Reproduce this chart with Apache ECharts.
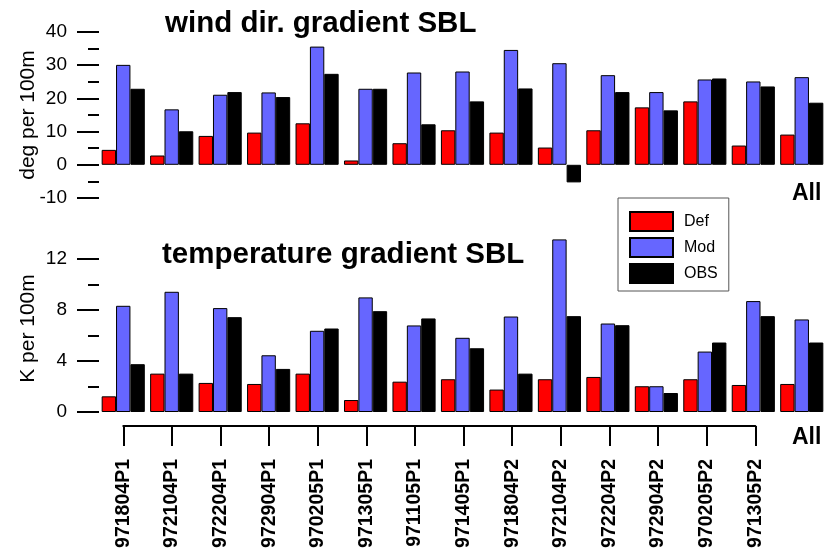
<!DOCTYPE html>
<html>
<head>
<meta charset="utf-8">
<script src="https://cdn.jsdelivr.net/npm/echarts@6/dist/echarts.min.js"></script>
<style>
  html, body { margin: 0; padding: 0; background: #fff; }
  #chart { width: 826px; height: 551px; }
</style>
</head>
<body>
<div id="chart"></div>
<script>
// Flight cases (last entry is the aggregate over all cases)
var categories = ['971804P1', '972104P1', '972204P1', '972904P1', '970205P1', '971305P1', '971105P1',
                  '971405P1', '971804P2', '972104P2', '972204P2', '972904P2', '970205P2', '971305P2', 'All'];
var seriesNames = ['Def', 'Mod', 'OBS'];

// Wind direction gradient in the SBL (deg per 100m)
var windDef = [4.5, 2.8, 8.7, 9.7, 12.5, 1.3, 6.5, 10.4, 9.7, 5.2, 10.4, 17.3, 19.1, 5.8, 9.1];
var windMod = [30.1, 16.7, 21.1, 21.8, 35.6, 22.9, 27.8, 28.1, 34.6, 30.6, 27.0, 21.9, 25.7, 25.1, 26.4];
var windObs = [22.9, 10.1, 21.9, 20.4, 27.4, 22.9, 12.2, 19.1, 23.0, -5.3, 21.9, 16.4, 26.0, 23.6, 18.7];

// Temperature gradient in the SBL (K per 100m)
var tempDef = [1.23, 3.01, 2.28, 2.2, 3.01, 0.94, 2.38, 2.57, 1.76, 2.57, 2.75, 2.02, 2.57, 2.12, 2.2];
var tempMod = [8.33, 9.43, 8.15, 4.45, 6.37, 8.99, 6.79, 5.82, 7.49, 13.54, 6.94, 2.02, 4.74, 8.70, 7.26];
var tempObs = [3.75, 3.01, 7.44, 3.38, 6.55, 7.91, 7.34, 5.0, 3.01, 7.52, 6.81, 1.49, 5.45, 7.52, 5.45];

// Tick values
var tempTicks = [0, 4, 8, 12];
var tempMinorTicks = [2, 6, 10];

var colors = ['#ff0000', '#6666ff', '#000000'];
var FONT = '"Liberation Sans", Arial, Helvetica, sans-serif';

var chart = echarts.init(document.getElementById('chart'), null, { renderer: 'canvas' });

function barSeries(name, data, xi, yi, color) {
  return {
    name: name,
    type: 'bar',
    xAxisIndex: xi,
    yAxisIndex: yi,
    data: data,
    clip: false,
    barGap: '0%',
    barCategoryGap: '11%',
    itemStyle: { color: color, borderColor: '#000', borderWidth: 1 },
    emphasis: { disabled: true },
    animation: false
  };
}

var axisLineStyle = { lineStyle: { color: '#000', width: 2 } };
var tickStyle = { color: '#000', width: 2 };
var labelStyle = { color: '#000', fontSize: 19, fontFamily: FONT };
var nameStyle = { fontSize: 21, color: '#000', fontFamily: FONT };

var caseLabels = categories.slice(0, categories.length - 1);
var allLabel = categories[categories.length - 1];

var option = {
  animation: false,
  backgroundColor: '#fff',
  textStyle: { fontFamily: FONT },
  title: [
    { text: 'wind dir. gradient SBL', left: 165, top: 7, padding: 0,
      textStyle: { fontSize: 29.5, fontWeight: 'bold', color: '#000', lineHeight: 34, fontFamily: FONT } },
    { text: 'temperature gradient SBL', left: 162, top: 238, padding: 0,
      textStyle: { fontSize: 29.5, fontWeight: 'bold', color: '#000', lineHeight: 34, fontFamily: FONT } },
    { text: allLabel, left: 792, top: 181, padding: 0,
      textStyle: { fontSize: 23, fontWeight: 'bold', color: '#000', lineHeight: 26, fontFamily: FONT } },
    { text: allLabel, left: 792, top: 425, padding: 0,
      textStyle: { fontSize: 23, fontWeight: 'bold', color: '#000', lineHeight: 26, fontFamily: FONT } }
  ],
  legend: {
    data: seriesNames,
    orient: 'vertical',
    left: 618,
    top: 198,
    padding: [13, 11, 7, 11],
    itemWidth: 43,
    itemHeight: 19,
    itemGap: 5,
    borderColor: '#555',
    borderWidth: 1,
    selectedMode: false,
    icon: 'rect',
    textStyle: { fontSize: 16, color: '#000', fontFamily: FONT, padding: [0, 0, 0, 6] }
  },
  grid: [
    { left: 99, width: 729, top: 32, height: 166 },
    { left: 99, width: 729, top: 245, height: 167 },
    { left: 123.3, width: 632, top: 425, height: 1 }
  ],
  xAxis: [
    { gridIndex: 0, type: 'category', data: categories, show: false },
    { gridIndex: 1, type: 'category', data: categories, show: false },
    {
      gridIndex: 2, type: 'category', data: caseLabels, boundaryGap: false, position: 'top',
      axisLine: { show: true, lineStyle: { color: '#000', width: 2 } },
      axisTick: { show: true, length: 20, inside: true, lineStyle: tickStyle, interval: 0 },
      axisLabel: { show: false }
    },
    {
      gridIndex: 2, type: 'category', data: caseLabels, boundaryGap: false, position: 'bottom',
      axisLine: { show: false },
      axisTick: { show: false },
      axisLabel: { show: true, interval: 0, rotate: 90, margin: 33, color: '#000',
                   fontSize: 19.5, fontWeight: 'bold', fontFamily: FONT }
    }
  ],
  yAxis: [
    {
      gridIndex: 0, type: 'value', min: -10, max: 40, interval: 10,
      name: 'deg per 100m', nameLocation: 'middle', nameGap: 60, nameRotate: 90,
      nameMoveOverlap: false,
      nameTextStyle: nameStyle,
      axisLine: axisLineStyle,
      axisTick: { show: true, length: 22, lineStyle: tickStyle },
      minorTick: { show: true, splitNumber: 2, length: 11, lineStyle: tickStyle },
      axisLabel: Object.assign({ margin: 32 }, labelStyle),
      splitLine: { show: false }
    },
    {
      gridIndex: 1, type: 'value', min: 0, max: 13.1,
      name: 'K per 100m', nameLocation: 'middle', nameGap: 60, nameRotate: 90,
      nameMoveOverlap: false,
      nameTextStyle: nameStyle,
      axisLine: axisLineStyle,
      axisTick: { show: true, length: 22, lineStyle: tickStyle, customValues: tempTicks },
      axisLabel: Object.assign({ margin: 32, customValues: tempTicks }, labelStyle),
      splitLine: { show: false }
    },
    {
      gridIndex: 1, type: 'value', min: 0, max: 13.1, position: 'left',
      axisLine: { show: false },
      axisTick: { show: true, length: 11, lineStyle: tickStyle, customValues: tempMinorTicks },
      axisLabel: { show: false },
      splitLine: { show: false }
    },
    { gridIndex: 2, type: 'value', show: false }
  ],
  series: [
    barSeries(seriesNames[0], windDef, 0, 0, colors[0]),
    barSeries(seriesNames[1], windMod, 0, 0, colors[1]),
    barSeries(seriesNames[2], windObs, 0, 0, colors[2]),
    barSeries(seriesNames[0], tempDef, 1, 1, colors[0]),
    barSeries(seriesNames[1], tempMod, 1, 1, colors[1]),
    barSeries(seriesNames[2], tempObs, 1, 1, colors[2])
  ]
};

chart.setOption(option);
</script>
</body>
</html>
